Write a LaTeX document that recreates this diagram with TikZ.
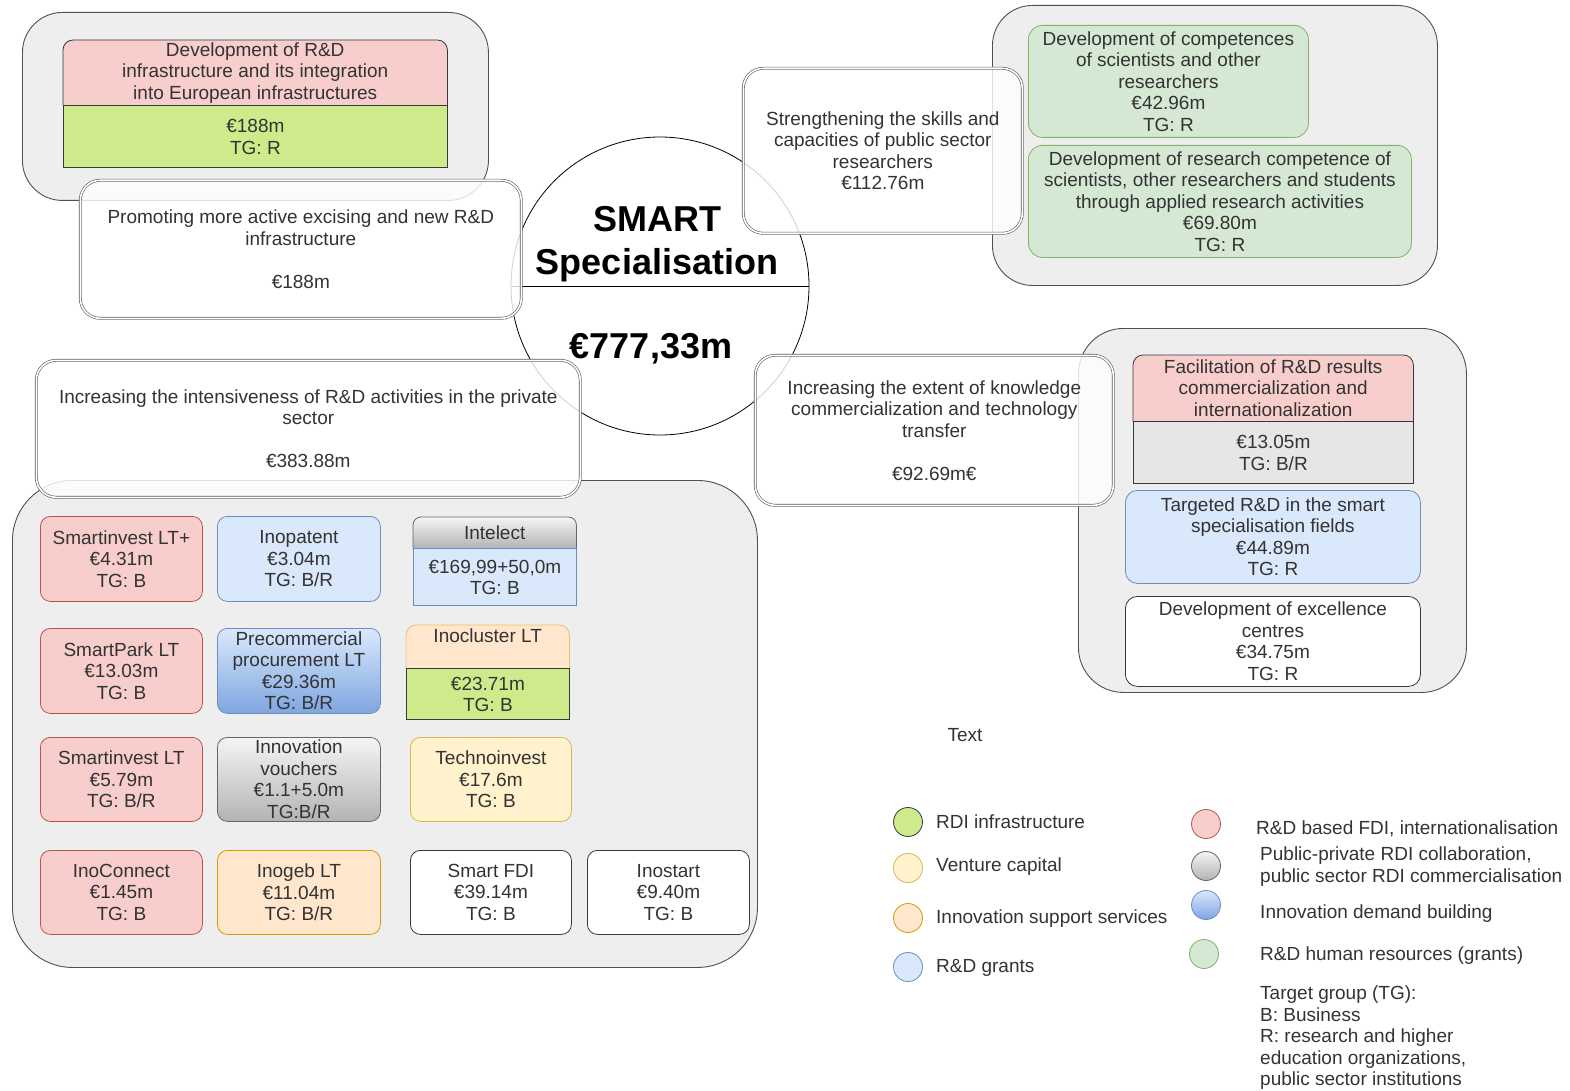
\documentclass[tikz,border=0pt]{standalone}
\usepackage{fontspec}
\setmainfont{Liberation Sans}
\pgfdeclarelayer{back}
\pgfdeclarelayer{mid}
\pgfsetlayers{back,mid,main}
\definecolor{txt}{HTML}{333333}
\definecolor{contf}{HTML}{EEEEEE}
\definecolor{contb}{HTML}{505050}
\definecolor{wbd}{HTML}{5A5A5A}
\definecolor{pinkf}{HTML}{F8CECC}
\definecolor{pinkd}{HTML}{B85450}
\definecolor{limef}{HTML}{CDEB8B}
\definecolor{dark}{HTML}{36393D}
\definecolor{bluef}{HTML}{DAE8FC}
\definecolor{blued}{HTML}{6C8EBF}
\definecolor{bluetwo}{HTML}{7EA6E0}
\definecolor{grnf}{HTML}{D5E8D4}
\definecolor{grnd}{HTML}{82B366}
\definecolor{yelf}{HTML}{FFF2CC}
\definecolor{yeld}{HTML}{D6B656}
\definecolor{orf}{HTML}{FFE6CC}
\definecolor{ord}{HTML}{D79B00}
\definecolor{grone}{HTML}{F5F5F5}
\definecolor{grtwo}{HTML}{B3B3B3}
\definecolor{grd}{HTML}{666666}
\definecolor{midgrey}{HTML}{E6E6E6}
\newcommand\bodyfs{\fontsize{19}{21.5}\selectfont}
\newcommand\titlefs{\fontsize{36}{43}\selectfont\bfseries}
\tikzset{
  every node/.style={font=\bodyfs, text=txt},
  cont/.style={draw=contb, fill=contf, line width=0.9pt, rounded corners=40pt, anchor=north west, inner sep=0pt},
  wbox/.style={draw=wbd, double=white, double distance=1.6pt, line width=0.6pt, fill=white, fill opacity=0.82, text opacity=1, rounded corners=20pt, align=center, anchor=north west, inner sep=0pt},
  ibox/.style={rounded corners=10pt, line width=0.8pt, align=center, anchor=north west, inner sep=0pt},
  pinkb/.style={ibox, draw=pinkd, fill=pinkf},
  blueb/.style={ibox, draw=blued, fill=bluef},
  grnb/.style={ibox, draw=grnd, fill=grnf},
  yelb/.style={ibox, draw=yeld, fill=yelf},
  orb/.style={ibox, draw=ord, fill=orf},
  whb/.style={ibox, draw=dark, fill=white},
  plain/.style={align=center, inner sep=0pt},
  hdrshape/.style={line width=0.8pt, rounded corners=10pt},
  lcirc/.style={circle, minimum size=29pt, inner sep=0pt, line width=0.8pt},
  ltext/.style={anchor=west, align=left, inner sep=0pt},
}
\begin{document}
\begin{tikzpicture}[x=1pt, y=-1pt]
\useasboundingbox (0,0) rectangle (1570,1091);

% containers
\begin{pgfonlayer}{back}
\node[cont, minimum width=466, minimum height=188] (c1) at (22,12) {};
\node[cont, minimum width=445, minimum height=280] (c2) at (992,5) {};
\node[cont, minimum width=388, minimum height=364, rounded corners=45pt] (c3) at (1078,328) {};
\node[cont, minimum width=745, minimum height=487, rounded corners=60pt] (c4) at (12,480) {};
\end{pgfonlayer}

% central circle
\node[circle, draw=black, line width=0.8pt, minimum size=298pt, inner sep=0pt] (circ) at (660,286) {};
\draw[line width=0.9pt] (circ.west) -- (circ.east);
\node[plain, font=\titlefs, text=black] (title) at (657,244) {SMART\\Specialisation};
\node[plain, font=\titlefs, text=black] (total) at (651,349) {€777,33m};

% top-left group
\node[plain, minimum width=384, minimum height=65, anchor=north west] (h1) at (63,40) {Development of R\&D\\infrastructure and its integration\\into European infrastructures};
\begin{pgfonlayer}{mid}
\draw[hdrshape, draw=dark, fill=pinkf] (h1.south west) -- (h1.north west) -- (h1.north east) -- (h1.south east);
\end{pgfonlayer}
\node[ibox, draw=dark, fill=limef, sharp corners, minimum width=384, minimum height=62] (b1) at (h1.south west) {€188m\\TG: R};

% top-right group
\node[grnb, minimum width=280, minimum height=112, rounded corners=14pt] (g1) at (1028,25) {Development of competences\\of scientists and other\\researchers\\€42.96m\\TG: R};
\node[grnb, minimum width=383, minimum height=112, rounded corners=14pt] (g2) at (1028,145) {Development of research competence of\\scientists, other researchers and students\\through applied research activities\\€69.80m\\TG: R};

% right group
\node[plain, minimum width=280, minimum height=66, anchor=north west] (h2) at (1133,355) {Facilitation of R\&D results\\commercialization and\\internationalization};
\begin{pgfonlayer}{mid}
\draw[hdrshape, draw=dark, fill=pinkf] (h2.south west) -- (h2.north west) -- (h2.north east) -- (h2.south east);
\end{pgfonlayer}
\node[ibox, draw=dark, fill=midgrey, sharp corners, minimum width=280, minimum height=62] (b2) at (h2.south west) {€13.05m\\TG: B/R};
\node[blueb, minimum width=295, minimum height=93, rounded corners=12pt] (tr) at (1125,490) {Targeted R\&D in the smart\\specialisation fields\\€44.89m\\TG: R};
\node[whb, minimum width=295, minimum height=90, rounded corners=12pt] (ex) at (1125,596) {Development of excellence\\centres\\€34.75m\\TG: R};

% bottom-left grid
\node[pinkb, minimum width=162, minimum height=85] (si1) at (40,516) {Smartinvest LT+\\€4.31m\\TG: B};
\node[blueb, minimum width=163, minimum height=85] (inp) at (217,516) {Inopatent\\€3.04m\\TG: B/R};
\node[plain, minimum width=163, minimum height=31, anchor=north west] (h3) at (413,517) {Intelect};
\begin{pgfonlayer}{mid}
\draw[hdrshape, draw=grd, top color=grone, bottom color=grtwo, rounded corners=8pt] (h3.south west) -- (h3.north west) -- (h3.north east) -- (h3.south east);
\end{pgfonlayer}
\node[ibox, draw=blued, fill=bluef, sharp corners, minimum width=163, minimum height=57] (b3) at (h3.south west) {€169,99+50,0m\\TG: B};

\node[pinkb, minimum width=162, minimum height=85] (sp) at (40,628) {SmartPark LT\\€13.03m\\TG: B};
\node[ibox, draw=blued, top color=bluef, bottom color=bluetwo, minimum width=163, minimum height=85] (pcp) at (217,628) {Precommercial\\procurement LT\\€29.36m\\TG: B/R};
\node[inner sep=0pt, minimum width=163, minimum height=43, anchor=north west] (h4) at (406,625) {};
\begin{pgfonlayer}{mid}
\draw[hdrshape, draw=ord!60, fill=orf] (h4.south west) -- (h4.north west) -- (h4.north east) -- (h4.south east);
\end{pgfonlayer}
\node[plain] (h4t) at ([yshift=-11pt]h4.north) {Inocluster LT};
\node[ibox, draw=dark, fill=limef, sharp corners, minimum width=163, minimum height=51] (b4) at (h4.south west) {€23.71m\\TG: B};

\node[pinkb, minimum width=162, minimum height=84] (si2) at (40,737) {Smartinvest LT\\€5.79m\\TG: B/R};
\node[ibox, draw=grd, top color=grone, bottom color=grtwo, minimum width=163, minimum height=84] (iv) at (217,737) {Innovation\\vouchers\\€1.1+5.0m\\TG:B/R};
\node[yelb, minimum width=161, minimum height=84] (ti) at (410,737) {Technoinvest\\€17.6m\\TG: B};

\node[pinkb, minimum width=162, minimum height=84] (ic) at (40,850) {InoConnect\\€1.45m\\TG: B};
\node[orb, minimum width=163, minimum height=84] (ig) at (217,850) {Inogeb LT\\€11.04m\\TG: B/R};
\node[whb, minimum width=161, minimum height=84] (sf) at (410,850) {Smart FDI\\€39.14m\\TG: B};
\node[whb, minimum width=162, minimum height=84] (is) at (587,850) {Inostart\\€9.40m\\TG: B};

% white objective boxes
\node[wbox, minimum width=441, minimum height=138] (prom) at (80,180) {Promoting more active excising and new R\&D\\infrastructure\\[21.5pt]€188m};
\node[wbox, minimum width=279, minimum height=165] (str) at (743,68) {Strengthening the skills and\\capacities of public sector\\researchers\\€112.76m};
\node[wbox, minimum width=358, minimum height=150] (inc) at (755,355) {Increasing the extent of knowledge\\commercialization and technology\\transfer\\[21.5pt]€92.69m€};
\node[wbox, minimum width=544, minimum height=137] (int) at (36,360) {Increasing the intensiveness of R\&D activities in the private\\sector\\[21.5pt]€383.88m};

% legend
\node[plain] (txtlbl) at (965,735) {Text};
\node[lcirc, draw=dark, fill=limef] (l1) at (908,822) {};
\node[lcirc, draw=yeld, fill=yelf] (l2) at (908,868) {};
\node[lcirc, draw=ord, fill=orf] (l3) at (908,918) {};
\node[lcirc, draw=blued, fill=bluef] (l4) at (908,967) {};
\node[ltext] (t1) at (936,822) {RDI infrastructure};
\node[ltext] (t2) at (936,867) {Venture capital};
\node[ltext] (t3) at (936,919) {Innovation support services};
\node[ltext] (t4) at (936,968) {R\&D grants};

\node[lcirc, draw=pinkd, fill=pinkf] (r1) at (1206,824) {};
\node[lcirc, draw=grd, top color=grone, bottom color=grtwo] (r2) at (1206,866) {};
\node[lcirc, draw=blued, top color=bluef, bottom color=bluetwo] (r3) at (1206,905) {};
\node[lcirc, draw=grnd, fill=grnf] (r4) at (1204,954) {};
\node[ltext] (s1) at (1256,829) {R\&D based FDI, internationalisation};
\node[ltext] (s2) at (1260,866.5) {Public-private RDI collaboration,\\public sector RDI commercialisation};
\node[ltext] (s3) at (1260,914) {Innovation demand building};
\node[ltext] (s4) at (1260,956) {R\&D human resources (grants)};
\node[ltext] (s5) at (1260,1038) {Target group (TG):\\B: Business\\R: research and higher\\education organizations,\\public sector institutions};
\end{tikzpicture}
\end{document}
